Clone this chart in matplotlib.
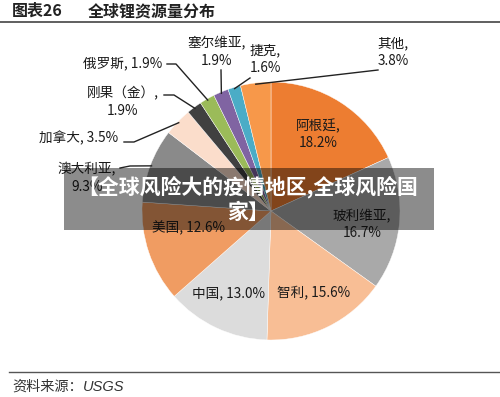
import numpy as np
import matplotlib
matplotlib.use("Agg")
import matplotlib.pyplot as plt
from matplotlib.patches import Rectangle

plt.rcParams['font.family'] = ['Noto Sans CJK SC', 'DejaVu Sans']

# data
countries = ['阿根廷', '玻利维亚', '智利', '中国', '美国', '澳大利亚',
             '加拿大', '刚果（金）', '俄罗斯', '塞尔维亚', '捷克', '其他']
shares = [18.2, 16.7, 15.6, 13.0, 12.6, 9.3, 3.5, 1.9, 1.9, 1.9, 1.6, 3.8]
colors = ['#ED7D31', '#A9A9A9', '#F8BE95', '#DCDCDC', '#F09C62', '#8A8A8A',
          '#FBDDCB', '#404040', '#9BBB59', '#8064A2', '#4BACC6', '#F7984A']

W, H = 500, 397
CX, CY, R = 271, 211, 129   # pie centre / radius in pixels

fig = plt.figure(figsize=(W / 100, H / 100), dpi=100)
fig.patch.set_facecolor('white')

ax = fig.add_axes([(CX - R) / W, 1 - (CY + R) / H, 2 * R / W, 2 * R / H])
wedges, _ = ax.pie(shares, colors=colors, startangle=90, counterclock=False,
                   radius=1.0, wedgeprops=dict(edgecolor='white', linewidth=0.3))
ax.set_xlim(-1, 1)
ax.set_ylim(-1, 1)
ax.set_aspect('equal')
ax.axis('off')


def px(x, y):
    # pixel position -> pie data coords
    return (x - CX) / R, (CY - y) / R


def rim(i, r=0.99):
    w = wedges[i]
    a = np.deg2rad((w.theta1 + w.theta2) / 2)
    return r * np.cos(a), r * np.sin(a)


fs = 9.8
# labels inside the pie
inside = {0: (318, 134), 1: (362, 225), 2: (314, 293), 3: (229, 293), 4: (188, 228)}
for i, (x, y) in inside.items():
    if i in (0, 1):
        s = f'{countries[i]},\n{shares[i]:.1f}%'
    else:
        s = f'{countries[i]}, {shares[i]:.1f}%'
    tx, ty = px(x, y)
    ax.text(tx, ty, s, ha='center', va='center', fontsize=fs, color='#1a1a1a',
            linespacing=1.25)

# labels outside with leader lines
outside = {
    5: ((87, 178), [(120, 168), (130, 166)]),
    6: ((79, 138), [(124, 142), (134, 142)]),
    7: ((123, 102), [(164, 95), (174, 95)]),
    8: ((123, 63), [(167, 64), (176, 64)]),
    9: ((217, 52), [(221, 70)]),
    10: ((265, 59), [(250, 78)]),
    11: ((393, 52), [(378, 70)]),
}
for i, ((x, y), pts) in outside.items():
    if i in (6, 8):
        s = f'{countries[i]}, {shares[i]:.1f}%'
    else:
        s = f'{countries[i]},\n{shares[i]:.1f}%'
    tx, ty = px(x, y)
    ax.text(tx, ty, s, ha='center', va='center', fontsize=fs, color='#1a1a1a',
            linespacing=1.3, clip_on=False)
    line = [px(*p) for p in pts] + [rim(i)]
    ax.plot([p[0] for p in line], [p[1] for p in line], color='#222222',
            lw=1.0, clip_on=False)

# title, rules, source
fig.text(12 / W, 1 - 11 / H, '图表26', fontsize=11.5, fontweight='bold',
         va='center', ha='left', color='#222222')
fig.text(88 / W, 1 - 11 / H, '全球锂资源量分布', fontsize=11.5, fontweight='bold',
         va='center', ha='left', color='#222222')
fig.add_artist(plt.Line2D([0, 1], [1 - 21.5 / H] * 2, color='#444444', lw=1.2))
fig.add_artist(plt.Line2D([9 / W, 1], [1 - 372 / H] * 2, color='#555555', lw=1.0))
fig.text(12 / W, 1 - 387 / H, '资料来源：', fontsize=10.2,
         va='center', ha='left', color='#333333')
fig.text(83 / W, 1 - 387 / H, 'USGS', fontsize=10.5, style='italic',
         family='Liberation Sans', va='center', ha='left', color='#333333')

# watermark overlay
fig.add_artist(Rectangle((64 / W, 1 - 230 / H), 370 / W, 62 / H,
                         transform=fig.transFigure, facecolor='black',
                         alpha=0.45, edgecolor='none'))
fig.text(248 / W, 1 - 199 / H, '【全球风险大的疫情地区,全球风险国\n家】',
         fontsize=15, fontweight='black', color='white', ha='center',
         va='center', linespacing=1.2)

fig.savefig('out.png', dpi=100)
